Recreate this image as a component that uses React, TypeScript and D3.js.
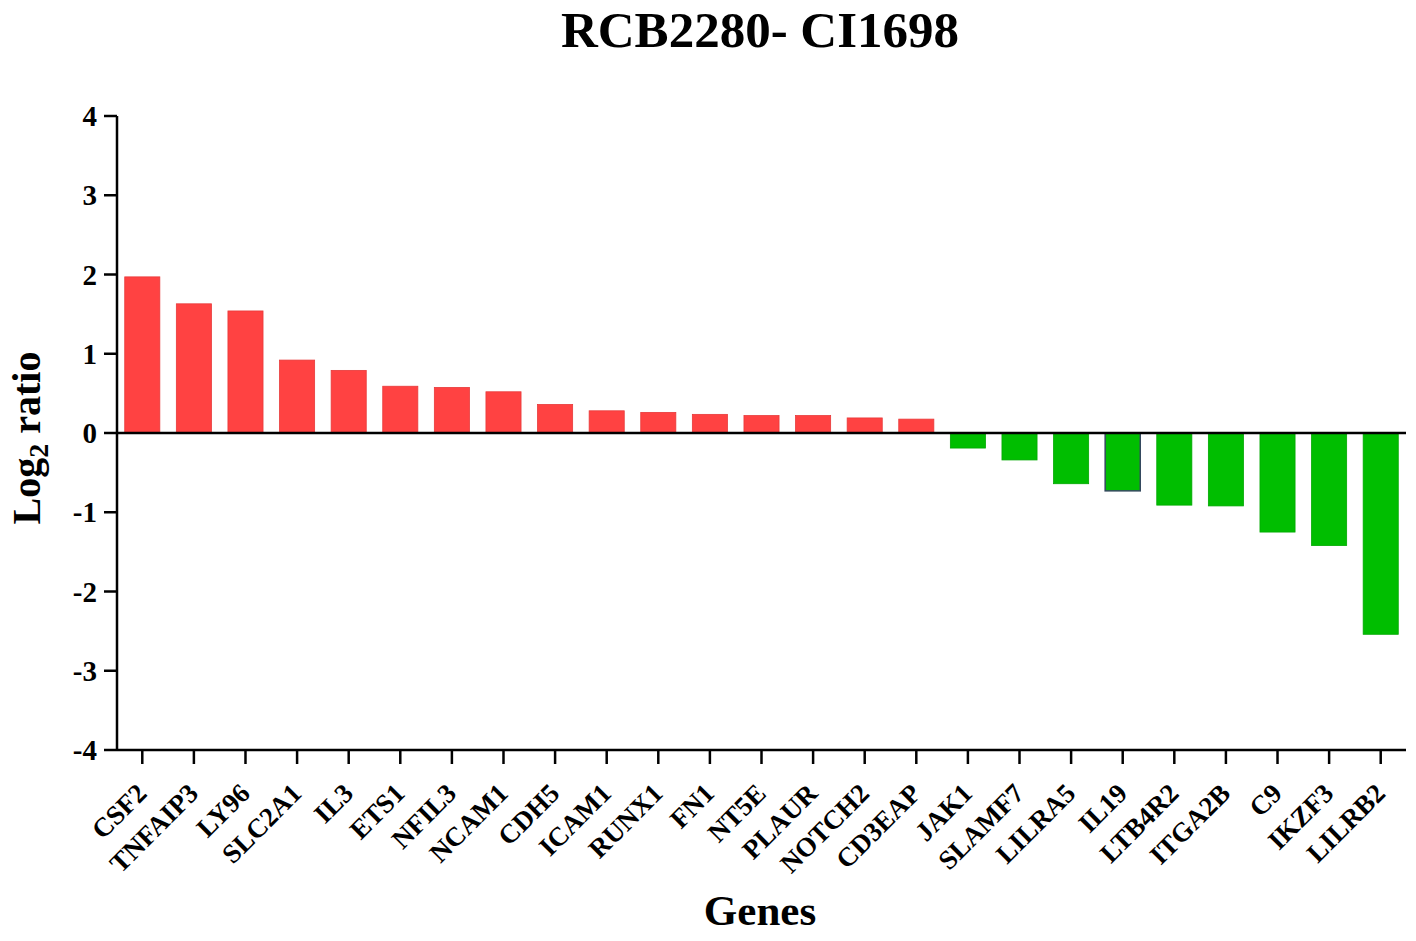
import React from "react";
import * as d3 from "d3";

const genes = ["CSF2","TNFAIP3","LY96","SLC2A1","IL3","ETS1","NFIL3","NCAM1","CDH5","ICAM1","RUNX1","FN1","NT5E","PLAUR","NOTCH2","CD3EAP","JAK1","SLAMF7","LILRA5","IL19","LTB4R2","ITGA2B","C9","IKZF3","LILRB2"];
const log2Ratio = [1.97,1.63,1.54,0.92,0.79,0.59,0.575,0.52,0.36,0.28,0.26,0.235,0.22,0.22,0.19,0.175,-0.19,-0.34,-0.64,-0.73,-0.91,-0.92,-1.25,-1.42,-2.54];
const yTicks = [-4,-3,-2,-1,0,1,2,3,4];
const titleText = "RCB2280- CI1698";
const xTitle = "Genes";
const outlinedGene = "IL19";

const W = 1416, H = 941;
const left = 117, right = 1406, top = 116, bottom = 750;
const FONT = "'Liberation Serif', 'Times New Roman', serif";

export default function App() {
  const x = d3.scaleBand<string>().domain(genes).range([left, right]).paddingInner(0.32).paddingOuter(0.15);
  const y = d3.scaleLinear().domain([-4, 4]).range([bottom, top]);
  const y0 = y(0);
  return (
    <svg width={W} height={H} style={{ position: "absolute", left: 0, top: 0, background: "#fff" }} fontFamily={FONT} fontWeight="bold">
      <text x={760} y={47} textAnchor="middle" fontSize={51}>{titleText}</text>
      {genes.map((g, i) => {
        const v = log2Ratio[i];
        const pos = v >= 0;
        const fill = pos ? "#FF4242" : "#00BE00";
        const stroke = g === outlinedGene ? "#34495e" : pos ? "#e83a3a" : "#00a800";
        return (
          <rect key={g} x={x(g)} y={Math.min(y(v), y0)} width={x.bandwidth()} height={Math.abs(y(v) - y0)}
            fill={fill} stroke={stroke} strokeWidth={g === outlinedGene ? 1.5 : 0.8} />
        );
      })}
      {/* y axis */}
      <line x1={left} x2={left} y1={top} y2={bottom + 1} stroke="#000" strokeWidth={2.5} />
      {yTicks.map(t => (
        <g key={t}>
          <line x1={left - 13} x2={left} y1={y(t)} y2={y(t)} stroke="#000" strokeWidth={2.5} />
          <text x={97} y={y(t)} dy="0.35em" textAnchor="end" fontSize={29}>{t}</text>
        </g>
      ))}
      {/* zero line */}
      <line x1={left} x2={right} y1={y0} y2={y0} stroke="#000" strokeWidth={2.5} />
      {/* bottom axis */}
      <line x1={left} x2={right} y1={bottom} y2={bottom} stroke="#000" strokeWidth={2.5} />
      {genes.map(g => {
        const cx = (x(g) as number) + x.bandwidth() / 2;
        return (
          <g key={g}>
            <line x1={cx} x2={cx} y1={bottom} y2={bottom + 14} stroke="#000" strokeWidth={2.5} />
            <text transform={`translate(${cx + 6},${bottom + 45}) rotate(-45)`} textAnchor="end" fontSize={27}>{g}</text>
          </g>
        );
      })}
      <text x={760} y={925} textAnchor="middle" fontSize={43}>{xTitle}</text>
      <text transform={`translate(40,438) rotate(-90)`} textAnchor="middle" fontSize={40}>
        Log<tspan fontSize={28} dy={8}>2</tspan><tspan dy={-8}> ratio</tspan>
      </text>
    </svg>
  );
}
